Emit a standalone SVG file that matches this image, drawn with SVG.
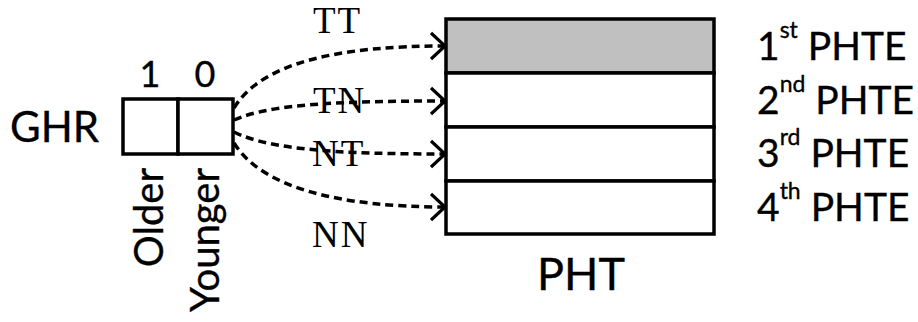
<svg xmlns="http://www.w3.org/2000/svg" width="918" height="322" viewBox="0 0 918 322">
<style>
.s{font-family:Lato,"Open Sans","Liberation Sans",sans-serif;fill:#000;stroke:#000;stroke-width:0.35}
.m{font-family:"Liberation Serif","DejaVu Serif",serif;fill:#000;font-size:37px;letter-spacing:2px}
.box{fill:#fff;stroke:#000;stroke-width:3.5}
.c{fill:none;stroke:#000;stroke-width:3.5;stroke-dasharray:8 5}
.ah{fill:none;stroke:#000;stroke-width:3.2}
</style>
<defs>
<marker id="arr" markerUnits="userSpaceOnUse" markerWidth="20" markerHeight="32" refX="15" refY="15" orient="auto" viewBox="0 0 20 32">
<path d="M1,2 L15,15 L1,28" class="ah"/>
</marker>
</defs>
<g id="ghr">
<text class="s" x="10" y="142" font-size="42">GHR</text>
<rect class="box" x="123" y="99" width="55" height="55"/>
<rect class="box" x="178" y="99" width="55" height="55"/>
<text class="s" x="150" y="87" font-size="36" text-anchor="middle">1</text>
<text class="s" x="205" y="87" font-size="36" text-anchor="middle">0</text>
<text class="s" font-size="40" text-anchor="end" transform="translate(163,168) rotate(-90)">Older</text>
<text class="s" font-size="40" text-anchor="end" transform="translate(219,168) rotate(-90)">Younger</text>
</g>
<g id="connectors">
<path class="c" d="M234,108 C262,62 340,46 445,46" marker-end="url(#arr)"/>
<path class="c" d="M234,120 C270,104 340,101 445,101" marker-end="url(#arr)"/>
<path class="c" d="M234,132 C270,150 340,154 445,154" marker-end="url(#arr)"/>
<path class="c" d="M234,143 C262,188 340,207 445,207" marker-end="url(#arr)"/>
</g>
<g id="labels">
<text class="m" x="313" y="33">TT</text>
<text class="m" x="313" y="113">TN</text>
<text class="m" x="312" y="166">NT</text>
<text class="m" x="312" y="247">NN</text>
</g>
<g id="pht">
<rect x="446" y="19" width="268" height="54" fill="#c0c0c0" stroke="#000" stroke-width="3.5"/>
<rect class="box" x="446" y="73" width="268" height="54"/>
<rect class="box" x="446" y="127" width="268" height="54"/>
<rect class="box" x="446" y="181" width="268" height="53"/>
<text class="s" x="581" y="290" font-size="45" text-anchor="middle">PHT</text>
</g>
<g id="entries">
<text class="s" x="757" y="60" font-size="39">1<tspan font-size="23" dy="-22">st</tspan><tspan dy="22"> PHTE</tspan></text>
<text class="s" x="757" y="114" font-size="39">2<tspan font-size="23" dy="-22">nd</tspan><tspan dy="22"> PHTE</tspan></text>
<text class="s" x="757" y="167" font-size="39">3<tspan font-size="23" dy="-22">rd</tspan><tspan dy="22"> PHTE</tspan></text>
<text class="s" x="757" y="221" font-size="39">4<tspan font-size="23" dy="-22">th</tspan><tspan dy="22"> PHTE</tspan></text>
</g>
</svg>
